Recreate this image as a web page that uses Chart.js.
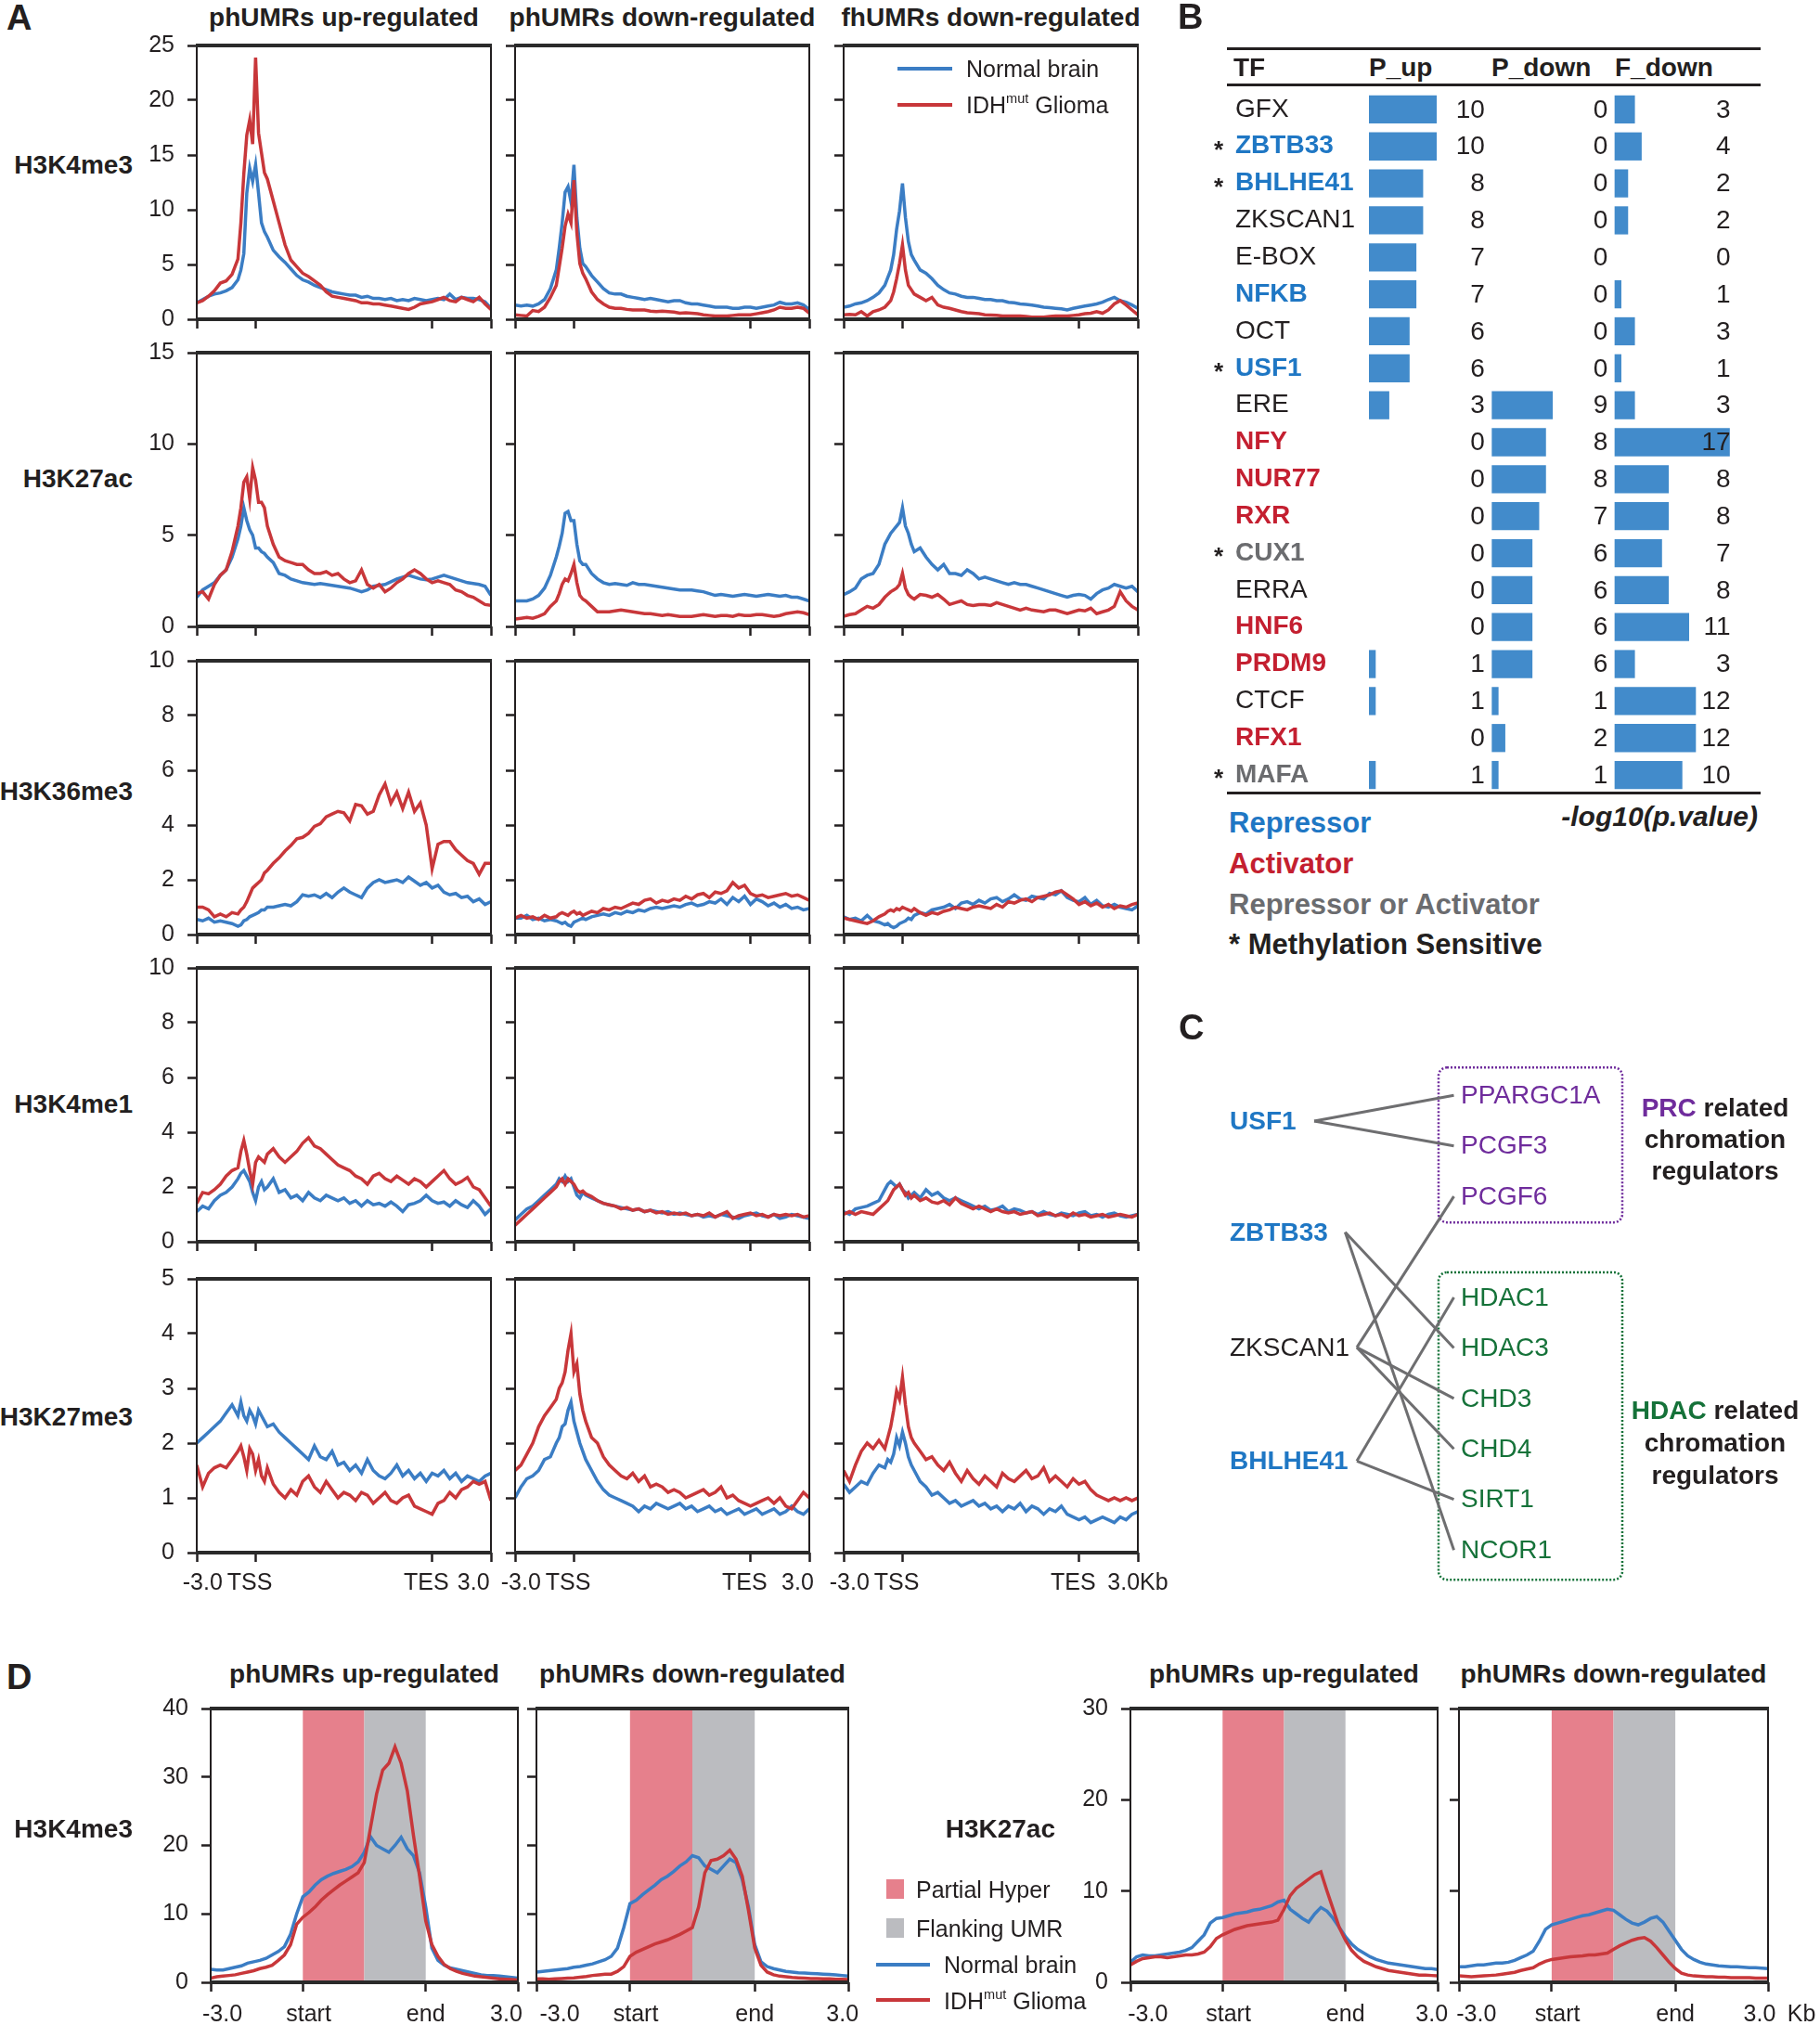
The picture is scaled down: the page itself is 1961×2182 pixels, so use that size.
<!DOCTYPE html>
<html>
<head>
<meta charset="utf-8">
<script src="https://cdn.jsdelivr.net/npm/chart.js@4.4.0/dist/chart.umd.min.js"></script>
<style>
body { margin: 0; background: #fff; }
#fig { position: relative; width: 1961px; height: 2182px; overflow: hidden; background: #fff;
       font-family: "Liberation Sans", Arial, sans-serif; color: #231f20; }
.t { position: absolute; white-space: nowrap; line-height: 1; }
.t sup { font-size: 58%; vertical-align: 0.75em; line-height: 0; }
canvas { position: absolute; }
.rule { position: absolute; background: #231f20; }
</style>
</head>
<body>
<div id="fig"></div>
<script>
// ---------- panel A: profile bins (-3kb .. TSS .. TES .. +3kb scaled to 0..100) ----------
const binsA = [0,2,4,6,8,10,12,14, 15,16,17,18,19,20,21,22,23,24,
  26,28,30,32,34,36,38,40,42,44, 46,48,50,52,54,56,58,60,62,64,
  66,68,70,72,74,76,78,80,82,84, 86,88,90,92,94,96,98,100];

// H3K4me3
const k4me3_pUp_normal = [1.5,1.8,2.1,2.3,2.4,2.6,2.9,3.6,
  4.5,6.0,11.5,13.8,12.6,14.1,11.5,8.8,8.0,7.5,
  6.3,5.7,5.2,4.6,4.0,3.6,3.4,3.1,2.9,2.7,
  2.5,2.4,2.3,2.2,2.2,2.0,2.1,1.9,1.9,1.8,
  1.9,1.7,1.8,1.7,1.9,1.8,1.7,1.8,1.9,1.8,
  2.3,1.8,2.0,1.9,1.9,1.8,1.6,1.0];
const k4me3_pUp_glioma = [1.5,1.7,2.1,2.6,3.3,3.5,4.1,5.5,
  8.8,13.3,16.8,18.2,16.0,23.9,17.0,15.2,13.4,12.8,
  10.8,8.8,6.8,5.4,4.8,4.2,3.9,3.5,3.1,2.5,
  2.1,2.0,1.9,1.8,1.7,1.5,1.5,1.4,1.4,1.3,
  1.2,1.1,1.0,0.9,1.1,1.4,1.5,1.6,1.8,2.0,
  1.7,1.6,2.0,1.8,1.6,2.0,1.4,0.9];
const k4me3_pDown_normal = [1.3,1.2,1.3,1.2,1.4,1.8,2.8,4.5,
  6.5,8.8,11.6,12.1,10.7,14.1,9.3,6.5,5.1,4.8,
  4.0,3.4,2.8,2.4,2.3,2.3,2.1,2.0,1.9,1.8,
  1.9,1.8,1.7,1.6,1.7,1.7,1.5,1.4,1.4,1.3,
  1.2,1.1,1.1,1.1,1.0,1.0,1.1,1.1,1.0,1.1,
  1.2,1.3,1.55,1.4,1.4,1.5,1.3,0.9];
const k4me3_pDown_glioma = [0.4,0.35,0.3,0.8,0.7,1.1,2.0,3.1,
  4.8,6.5,8.5,9.6,8.8,12.7,7.9,5.1,4.2,3.7,
  2.5,1.8,1.4,1.1,1.0,1.0,0.9,0.85,0.85,0.85,
  0.75,0.7,0.75,0.7,0.65,0.55,0.6,0.55,0.5,0.4,
  0.35,0.3,0.3,0.3,0.35,0.4,0.4,0.4,0.5,0.6,
  0.7,0.85,1.1,1.0,1.0,1.1,1.0,0.55];
const k4me3_fDown_normal = [1.1,1.2,1.4,1.5,1.7,2.0,2.4,3.1,
  3.8,4.5,5.9,8.2,9.9,12.4,9.3,7.1,5.9,5.4,
  4.5,4.2,3.7,3.1,2.7,2.4,2.3,2.1,2.0,2.0,
  1.9,1.8,1.8,1.7,1.7,1.55,1.5,1.4,1.35,1.3,
  1.2,1.1,1.05,1.0,0.95,0.85,1.0,1.1,1.2,1.3,
  1.4,1.55,1.8,2.0,1.7,1.55,1.3,1.0];
const k4me3_fDown_glioma = [0.4,0.45,0.4,0.7,0.3,0.7,0.85,1.1,
  1.4,1.7,2.5,3.7,5.1,6.8,4.5,3.1,2.7,2.3,
  2.0,1.7,2.0,1.3,1.1,1.0,0.85,0.7,0.6,0.55,
  0.5,0.4,0.38,0.35,0.3,0.3,0.3,0.3,0.25,0.2,
  0.2,0.2,0.25,0.3,0.3,0.3,0.35,0.4,0.5,0.55,
  0.7,0.55,0.85,1.4,1.7,1.3,0.85,0.4];

// H3K27ac
const k27ac_pUp_normal = [1.6,2.0,2.2,2.4,2.8,3.1,3.8,4.8,
  5.5,6.5,5.8,5.3,5.0,4.3,4.3,4.1,4.0,3.8,
  3.5,2.9,2.8,2.6,2.5,2.4,2.35,2.3,2.35,2.3,
  2.25,2.2,2.15,2.1,2.0,1.9,2.0,2.2,2.25,2.3,
  2.45,2.6,2.7,2.8,2.7,2.6,2.55,2.6,2.7,2.8,
  2.7,2.6,2.5,2.4,2.35,2.3,2.2,1.7];
const k27ac_pUp_glioma = [1.8,1.9,1.5,2.3,2.8,3.1,4.1,5.5,
  6.5,7.9,8.2,7.0,8.7,8.0,6.8,6.8,6.5,5.5,
  4.5,3.8,3.6,3.5,3.4,3.4,3.1,2.9,2.9,3.0,
  2.8,2.9,2.6,2.4,2.5,3.1,2.3,2.1,2.3,1.9,
  2.1,2.4,2.6,2.9,3.1,2.9,2.6,2.4,2.5,2.4,
  2.3,2.0,1.9,1.7,1.6,1.4,1.2,1.15];
const k27ac_pDown_normal = [1.4,1.4,1.4,1.5,1.7,2.1,2.8,3.8,
  4.4,5.1,6.2,6.3,5.8,5.8,4.5,3.6,3.4,3.4,
  2.9,2.6,2.4,2.3,2.35,2.3,2.25,2.4,2.3,2.3,
  2.25,2.2,2.15,2.1,2.05,2.0,2.0,2.0,1.95,1.9,
  1.8,1.7,1.75,1.7,1.65,1.7,1.75,1.7,1.65,1.7,
  1.75,1.7,1.65,1.7,1.6,1.6,1.5,1.4];
const k27ac_pDown_glioma = [0.4,0.45,0.5,0.45,0.55,0.7,1.1,1.4,
  1.8,2.3,2.6,2.5,2.9,3.4,2.4,1.7,1.5,1.4,
  1.1,0.8,0.8,0.8,0.85,0.9,0.85,0.8,0.75,0.7,
  0.7,0.65,0.6,0.65,0.6,0.55,0.55,0.55,0.6,0.65,
  0.6,0.55,0.6,0.6,0.55,0.65,0.6,0.6,0.65,0.65,
  0.6,0.55,0.6,0.7,0.75,0.8,0.75,0.65];
const k27ac_fDown_normal = [1.75,1.9,2.1,2.6,2.8,2.9,3.4,4.5,
  4.8,5.1,5.3,5.5,5.7,6.5,5.5,5.1,4.5,4.1,
  4.3,3.8,3.4,3.1,3.4,2.9,2.9,2.8,3.1,2.9,
  2.6,2.7,2.6,2.5,2.4,2.3,2.4,2.3,2.3,2.2,
  2.1,2.0,1.9,1.8,1.7,1.6,1.7,1.75,1.7,1.5,
  1.8,2.0,2.1,2.3,2.2,2.1,2.2,1.9];
const k27ac_fDown_glioma = [0.55,0.65,0.7,0.9,1.1,1.0,1.2,1.6,
  1.75,1.9,2.0,2.1,2.3,2.9,2.1,1.75,1.6,1.5,
  1.75,1.7,1.6,1.75,1.5,1.2,1.3,1.4,1.2,1.15,
  1.2,1.2,1.15,1.3,1.2,1.1,1.0,0.9,1.0,0.9,
  0.85,0.8,0.9,0.9,0.8,0.7,0.8,0.9,0.85,1.0,
  0.7,0.8,0.9,1.1,1.9,1.4,1.1,0.9];

// H3K36me3
const k36me3_pUp_normal = [0.55,0.5,0.6,0.45,0.5,0.45,0.4,0.3,
  0.35,0.5,0.55,0.65,0.7,0.75,0.8,0.9,0.9,1.0,
  1.0,1.05,1.1,1.05,1.2,1.45,1.4,1.45,1.35,1.5,
  1.35,1.55,1.7,1.55,1.45,1.35,1.7,1.9,2.0,1.9,
  1.95,2.0,1.9,2.1,1.95,1.8,1.9,1.7,1.8,1.55,
  1.45,1.5,1.35,1.4,1.2,1.3,1.1,1.2];
const k36me3_pUp_glioma = [1.0,1.0,0.9,0.65,0.75,0.65,0.8,0.75,
  0.9,1.0,1.2,1.45,1.7,1.8,1.9,2.0,2.25,2.35,
  2.6,2.8,3.05,3.25,3.5,3.55,3.7,3.95,4.05,4.3,
  4.4,4.5,4.45,4.15,4.75,4.7,4.4,4.5,5.1,5.5,
  4.8,5.2,4.6,5.2,4.5,4.8,4.0,2.4,3.3,3.4,
  3.4,3.1,2.9,2.7,2.6,2.2,2.6,2.6];
const k36me3_pDown_normal = [0.6,0.6,0.7,0.55,0.6,0.5,0.55,0.5,
  0.45,0.4,0.45,0.35,0.3,0.45,0.5,0.55,0.6,0.55,
  0.65,0.7,0.75,0.7,0.8,0.75,0.85,0.8,0.9,0.85,
  0.95,1.0,0.95,1.0,1.05,1.0,1.1,1.15,1.05,1.1,
  1.2,1.15,1.3,1.1,1.35,1.2,1.4,1.1,1.3,1.2,
  1.05,1.15,1.0,1.1,0.95,1.0,0.9,0.95];
const k36me3_pDown_glioma = [0.6,0.7,0.6,0.65,0.55,0.7,0.6,0.65,
  0.75,0.8,0.75,0.7,0.8,0.85,0.75,0.8,0.7,0.75,
  0.85,0.8,0.95,0.9,1.0,0.95,1.05,1.15,1.1,1.25,
  1.3,1.15,1.25,1.2,1.3,1.25,1.4,1.3,1.45,1.5,
  1.35,1.55,1.5,1.6,1.9,1.7,1.8,1.5,1.4,1.45,
  1.35,1.4,1.45,1.5,1.4,1.45,1.35,1.25];
const k36me3_fDown_normal = [0.65,0.55,0.6,0.5,0.7,0.5,0.45,0.35,
  0.4,0.3,0.25,0.3,0.4,0.45,0.5,0.6,0.55,0.7,
  0.8,0.75,0.9,0.95,1.0,1.1,0.95,1.15,1.2,1.1,
  1.25,1.15,1.3,1.35,1.2,1.3,1.45,1.3,1.25,1.4,
  1.35,1.3,1.5,1.45,1.6,1.35,1.25,1.2,1.35,1.1,
  1.25,1.05,1.0,1.1,1.0,0.95,0.9,1.05];
const k36me3_fDown_glioma = [0.6,0.55,0.5,0.45,0.4,0.5,0.65,0.75,
  0.85,0.9,0.85,0.95,0.9,1.0,0.95,0.9,0.85,0.95,
  0.8,0.7,0.8,0.75,0.85,0.9,1.0,0.95,0.9,1.0,
  1.05,1.0,0.95,1.1,1.0,1.2,1.15,1.25,1.3,1.2,
  1.35,1.4,1.45,1.55,1.6,1.45,1.3,1.1,1.2,1.05,
  1.15,1.0,1.1,0.95,1.05,1.0,1.1,1.15];

// H3K4me1
const k4me1_pUp_normal = [1.1,1.3,1.2,1.5,1.7,1.8,2.0,2.3,
  2.5,2.6,2.4,2.2,1.8,1.5,2.0,2.2,1.9,2.0,
  2.3,1.8,1.9,1.6,1.7,1.5,1.8,1.6,1.5,1.7,
  1.6,1.5,1.6,1.4,1.5,1.3,1.5,1.35,1.4,1.3,
  1.45,1.3,1.1,1.35,1.4,1.5,1.7,1.5,1.4,1.45,
  1.3,1.5,1.35,1.25,1.5,1.3,1.0,1.2];
const k4me1_pUp_glioma = [1.4,1.8,1.75,1.9,2.1,2.4,2.6,2.7,
  3.3,3.7,3.2,2.6,2.1,2.9,3.1,3.0,2.9,3.2,
  3.4,3.1,2.9,3.1,3.3,3.6,3.8,3.5,3.4,3.2,
  3.0,2.8,2.7,2.6,2.4,2.3,2.1,2.4,2.5,2.3,
  2.2,2.4,2.25,2.1,2.3,2.2,2.0,2.2,2.4,2.6,
  2.3,2.1,2.2,2.35,2.0,1.9,1.6,1.3];
const k4me1_pDown_normal = [0.8,1.0,1.2,1.3,1.5,1.7,1.9,2.1,
  2.3,2.2,2.4,2.2,2.3,2.0,1.7,1.6,1.8,1.7,
  1.6,1.5,1.4,1.35,1.3,1.25,1.2,1.15,1.2,1.1,
  1.15,1.1,1.05,1.1,1.0,1.05,1.0,0.95,1.0,0.9,
  0.95,0.9,1.0,0.95,0.9,0.85,0.95,1.0,1.05,0.95,
  0.9,1.0,0.85,0.9,1.0,0.95,0.9,0.85];
const k4me1_pDown_glioma = [0.6,0.8,1.0,1.2,1.4,1.6,1.8,2.0,
  2.2,2.3,2.1,2.3,2.2,2.1,1.9,1.8,1.85,1.75,
  1.65,1.5,1.4,1.35,1.3,1.2,1.25,1.15,1.2,1.1,
  1.15,1.05,1.1,1.0,1.05,1.0,1.05,0.95,1.0,0.95,
  1.05,0.9,1.0,1.1,0.85,0.95,1.0,1.05,0.95,1.0,
  0.9,1.0,0.95,1.0,0.95,1.0,0.9,0.95];
const k4me1_fDown_normal = [1.1,1.0,1.2,1.25,1.3,1.4,1.5,1.9,
  2.1,2.2,2.1,2.0,2.1,1.9,1.8,1.6,1.7,1.8,
  1.6,1.9,1.7,1.8,1.6,1.5,1.6,1.5,1.4,1.3,
  1.2,1.3,1.15,1.2,1.3,1.1,1.2,1.15,1.05,1.1,
  1.0,1.1,1.0,0.95,1.05,1.0,0.95,1.05,1.1,0.95,
  1.0,0.9,1.0,1.05,0.95,0.9,0.95,1.0];
const k4me1_fDown_glioma = [1.0,1.1,1.0,1.1,1.05,1.0,1.2,1.4,
  1.5,1.7,1.9,2.0,2.1,1.9,1.7,1.8,1.6,1.7,
  1.5,1.6,1.45,1.4,1.5,1.35,1.6,1.4,1.3,1.2,
  1.3,1.2,1.1,1.2,1.1,1.05,1.1,1.0,1.05,1.1,
  0.95,1.0,1.05,0.95,1.0,0.9,1.05,0.95,1.0,0.9,
  0.95,1.0,0.9,0.95,1.0,0.95,0.9,1.0];

// H3K27me3
const k27me3_pUp_normal = [2.0,2.1,2.2,2.3,2.4,2.55,2.7,2.5,
  2.75,2.5,2.4,2.6,2.5,2.35,2.6,2.5,2.4,2.3,
  2.35,2.2,2.1,2.0,1.9,1.8,1.7,1.95,1.75,1.7,
  1.85,1.6,1.65,1.5,1.6,1.45,1.7,1.5,1.4,1.35,
  1.45,1.6,1.4,1.5,1.35,1.45,1.3,1.45,1.4,1.5,
  1.35,1.45,1.3,1.4,1.35,1.3,1.4,1.45];
const k27me3_pUp_glioma = [1.6,1.2,1.45,1.55,1.6,1.55,1.7,1.85,
  1.95,1.75,1.5,1.9,1.8,1.5,1.7,1.4,1.3,1.55,
  1.25,1.1,1.0,1.15,1.05,1.3,1.4,1.2,1.1,1.3,
  1.15,1.0,1.1,1.05,0.95,1.1,1.05,0.9,1.0,1.1,
  0.95,0.9,1.0,1.05,0.85,0.8,0.75,0.7,0.9,0.95,
  1.1,1.0,1.15,1.2,1.3,1.25,1.3,0.95];
const k27me3_pDown_normal = [1.0,1.2,1.35,1.4,1.5,1.7,1.75,2.0,
  2.1,2.3,2.35,2.6,2.75,2.4,2.2,2.0,1.85,1.7,
  1.5,1.3,1.15,1.05,1.0,0.95,0.9,0.85,0.75,0.85,
  0.8,0.9,0.85,0.8,0.85,0.9,0.8,0.85,0.75,0.8,
  0.85,0.75,0.8,0.7,0.75,0.8,0.7,0.75,0.8,0.7,
  0.75,0.8,0.7,0.75,0.85,0.75,0.7,0.8];
const k27me3_pDown_glioma = [1.5,1.6,1.8,2.0,2.3,2.5,2.65,2.8,
  3.0,3.1,3.3,3.7,4.0,3.3,3.45,2.9,2.6,2.4,
  2.1,2.0,1.75,1.6,1.5,1.4,1.35,1.45,1.3,1.4,
  1.2,1.25,1.2,1.1,1.15,1.1,1.0,1.05,1.1,1.15,
  1.05,1.1,1.2,1.0,1.05,0.95,0.9,0.85,0.9,0.95,
  1.0,0.9,1.0,0.85,0.8,0.95,1.1,1.0];
const k27me3_fDown_normal = [1.25,1.1,1.2,1.3,1.25,1.45,1.6,1.55,
  1.7,1.65,1.8,2.1,1.95,2.2,2.0,1.75,1.6,1.5,
  1.3,1.2,1.05,1.1,1.0,0.9,0.95,0.85,0.9,0.95,
  0.85,0.9,0.8,0.85,0.75,0.85,0.8,0.9,0.75,0.85,
  0.8,0.7,0.8,0.75,0.85,0.7,0.65,0.6,0.65,0.55,
  0.6,0.65,0.6,0.55,0.65,0.6,0.7,0.75];
const k27me3_fDown_glioma = [1.5,1.3,1.6,1.85,2.0,1.9,2.05,1.9,
  2.1,2.3,2.6,2.95,2.8,3.2,2.7,2.3,2.1,2.0,
  1.85,1.7,1.75,1.6,1.5,1.65,1.45,1.3,1.5,1.35,
  1.25,1.4,1.3,1.2,1.45,1.35,1.3,1.4,1.5,1.35,
  1.4,1.55,1.3,1.4,1.3,1.2,1.35,1.25,1.3,1.15,
  1.05,1.0,0.95,1.0,0.95,1.0,0.95,1.0];

const rowNamesA = ['H3K4me3', 'H3K27ac', 'H3K36me3', 'H3K4me1', 'H3K27me3'];
const rowMaxA = [25, 15, 10, 10, 5];
const rowStepA = [5, 5, 2, 2, 1];
const colTitlesA = ['phUMRs up-regulated', 'phUMRs down-regulated', 'fhUMRs down-regulated'];
const seriesA = [
  [[k4me3_pUp_normal, k4me3_pUp_glioma], [k4me3_pDown_normal, k4me3_pDown_glioma], [k4me3_fDown_normal, k4me3_fDown_glioma]],
  [[k27ac_pUp_normal, k27ac_pUp_glioma], [k27ac_pDown_normal, k27ac_pDown_glioma], [k27ac_fDown_normal, k27ac_fDown_glioma]],
  [[k36me3_pUp_normal, k36me3_pUp_glioma], [k36me3_pDown_normal, k36me3_pDown_glioma], [k36me3_fDown_normal, k36me3_fDown_glioma]],
  [[k4me1_pUp_normal, k4me1_pUp_glioma], [k4me1_pDown_normal, k4me1_pDown_glioma], [k4me1_fDown_normal, k4me1_fDown_glioma]],
  [[k27me3_pUp_normal, k27me3_pUp_glioma], [k27me3_pDown_normal, k27me3_pDown_glioma], [k27me3_fDown_normal, k27me3_fDown_glioma]]
];
const xTicksA = [0, 20, 80, 100];
const xLabelsA = ['-3.0', 'TSS', 'TES', '3.0'];

// ---------- panel B ----------
const tfNames = ['GFX','ZBTB33','BHLHE41','ZKSCAN1','E-BOX','NFKB','OCT','USF1','ERE','NFY',
  'NUR77','RXR','CUX1','ERRA','HNF6','PRDM9','CTCF','RFX1','MAFA'];
const tfType = ['none','rep','rep','none','none','rep','none','rep','none','act',
  'act','act','either','none','act','act','none','act','either'];
const tfMethyl = [0,1,1,0,0,0,0,1,0,0,0,0,1,0,0,0,0,0,1];
const pUp   = [10,10,8,8,7,7,6,6,3,0,0,0,0,0,0,1,1,0,1];
const pDown = [0,0,0,0,0,0,0,0,9,8,8,7,6,6,6,6,1,2,1];
const fDown = [3,4,2,2,0,1,3,1,3,17,8,8,7,8,11,3,12,12,10];
const tableHeads = ['TF', 'P_up', 'P_down', 'F_down'];

// ---------- panel C ----------
const leftNodes = ['USF1', 'ZBTB33', 'ZKSCAN1', 'BHLHE41'];
const leftType = ['rep', 'rep', 'none', 'rep'];
const leftSlot = [0.51, 2.71, 4.99, 7.24];
const leftOut = [-0.44, -0.12, 0, 0];
const rightNodes = ['PPARGC1A','PCGF3','PCGF6','HDAC1','HDAC3','CHD3','CHD4','SIRT1','NCOR1'];
const rightGroup = ['PRC','PRC','PRC','HDAC','HDAC','HDAC','HDAC','HDAC','HDAC'];
const rightSlot = [0, 1, 2, 4, 5, 6, 7, 8, 9];
const edges = [['USF1','PPARGC1A'], ['USF1','PCGF3'], ['ZBTB33','HDAC3'], ['ZBTB33','NCOR1'],
  ['ZKSCAN1','PCGF6'], ['ZKSCAN1','CHD3'], ['ZKSCAN1','CHD4'], ['BHLHE41','HDAC1'], ['BHLHE41','SIRT1']];

// ---------- panel D ----------
const binsD = [0,2,4,6,8,10,12,14,16,18,20,22,24,26,28,30,32,34,36,38,40,42,44,46,48,50,
  52,54,56,58,60,62,64,66,68,70,72,74,76,78,80,82,84,86,88,90,92,94,96,98,100];
const regionEdges = [30, 50, 70];
const xTicksD = [0, 30, 70, 100];
const xLabelsD = ['-3.0', 'start', 'end', '3.0'];
const dK4me3_up_normal = [1.9,1.8,1.8,2.0,2.2,2.4,2.8,3.0,3.2,3.5,
  4.0,4.5,5.2,7.0,10.0,12.5,13.2,14.2,15.0,15.5,
  15.9,16.2,16.5,16.9,17.6,19.0,21.3,20.0,19.5,19.0,
  20.0,21.2,19.5,18.5,16.0,11.0,5.0,3.2,2.5,2.1,
  1.9,1.7,1.5,1.3,1.1,1.0,1.0,0.9,0.8,0.7, 0.6];
const dK4me3_up_glioma = [0.6,0.8,0.9,1.0,1.1,1.3,1.5,1.7,2.0,2.2,
  2.5,3.2,4.0,5.5,8.5,9.5,10.2,11.0,12.0,12.8,
  13.5,14.2,14.8,15.4,16.0,17.5,22.5,27.5,31.0,32.0,
  34.4,32.0,28.0,21.5,15.5,9.0,5.5,3.8,2.6,2.0,
  1.6,1.3,1.1,0.9,0.8,0.7,0.6,0.5,0.45,0.4, 0.35];
const dK4me3_down_normal = [1.5,1.6,1.7,1.8,1.9,2.0,2.2,2.3,2.5,2.7,
  3.0,3.3,3.8,5.0,8.0,11.5,12.0,12.8,13.5,14.2,
  15.0,15.5,16.2,17.0,17.6,18.5,18.2,17.0,16.5,16.0,
  17.0,18.0,17.5,15.0,11.0,5.5,3.0,2.3,2.0,1.8,
  1.6,1.5,1.4,1.35,1.3,1.25,1.2,1.15,1.1,1.0, 0.9];
const dK4me3_down_glioma = [0.5,0.5,0.45,0.5,0.55,0.6,0.65,0.75,0.85,1.0,
  1.1,1.2,1.2,1.6,2.3,3.8,4.4,4.8,5.2,5.6,
  5.9,6.2,6.6,7.0,7.5,8.0,11.0,16.0,17.8,18.0,
  18.5,19.3,18.0,15.5,10.5,5.0,2.5,1.5,1.1,0.9,
  0.8,0.7,0.65,0.6,0.55,0.55,0.5,0.5,0.45,0.45, 0.4];
const dK27ac_up_normal = [2.2,2.8,3.0,2.9,2.9,3.0,3.1,3.2,3.3,3.5,
  3.8,4.5,5.2,6.5,7.0,7.1,7.3,7.5,7.6,7.7,
  7.9,8.0,8.2,8.4,8.8,9.0,8.0,7.5,7.0,6.6,
  7.5,8.2,7.8,7.0,6.0,5.0,4.2,3.6,3.2,2.8,
  2.5,2.3,2.1,2.0,1.9,1.8,1.7,1.6,1.5,1.5, 1.4];
const dK27ac_up_glioma = [1.9,2.3,2.6,2.7,2.8,2.8,2.7,2.8,2.9,3.0,
  3.0,3.1,3.3,3.9,4.8,5.2,5.5,5.8,6.0,6.2,
  6.3,6.4,6.5,6.6,6.8,8.0,9.5,10.3,10.8,11.3,
  11.8,12.1,10.0,8.0,6.0,4.6,3.5,2.8,2.3,2.0,
  1.7,1.5,1.3,1.2,1.1,1.0,0.9,0.8,0.8,0.75, 0.7];
const dK27ac_down_normal = [1.7,1.7,1.8,1.9,1.9,2.0,2.1,2.1,2.2,2.4,
  2.7,3.0,3.4,4.5,5.8,6.3,6.5,6.7,6.9,7.1,
  7.3,7.4,7.6,7.8,8.0,7.9,7.4,6.9,6.5,6.3,
  6.6,7.0,7.2,6.6,5.6,4.6,3.6,2.9,2.5,2.2,
  2.0,1.9,1.8,1.75,1.7,1.7,1.65,1.6,1.6,1.55, 1.5];
const dK27ac_down_glioma = [0.7,0.65,0.6,0.65,0.7,0.75,0.8,0.9,1.0,1.1,
  1.3,1.45,1.6,2.0,2.3,2.5,2.6,2.7,2.8,2.85,
  2.9,3.0,3.0,3.1,3.2,3.6,4.0,4.3,4.6,4.8,
  4.9,4.5,3.8,3.0,2.2,1.5,1.0,0.8,0.7,0.65,
  0.6,0.6,0.55,0.55,0.5,0.5,0.5,0.5,0.45,0.45, 0.45];
const titlesD = ['phUMRs up-regulated', 'phUMRs down-regulated', 'phUMRs up-regulated', 'phUMRs down-regulated'];
const seriesD = [[dK4me3_up_normal, dK4me3_up_glioma], [dK4me3_down_normal, dK4me3_down_glioma],
  [dK27ac_up_normal, dK27ac_up_glioma], [dK27ac_down_normal, dK27ac_down_glioma]];
const yMaxD = [40, 40, 30, 30];

// ---------- styling ----------
const ink = '#231f20';
const blueLine = '#3b7dc4';
const redLine = '#c8373a';
const barBlue = '#428bcb';
const typeColor = { rep: '#1f77c4', act: '#c41f30', either: '#6b6c6f', none: ink };
const prcColor = '#6f2c9c';
const hdacColor = '#157239';
const pinkBand = '#e6808c';
const grayBand = '#bbbcc0';
const en = '\u2002';

Chart.defaults.animation = false;
Chart.defaults.responsive = false;
Chart.defaults.events = [];
Chart.defaults.font.family = '"Liberation Sans", Arial, sans-serif';
Chart.defaults.color = ink;
Chart.defaults.plugins.legend.display = false;
Chart.defaults.plugins.tooltip.enabled = false;

const fig = document.getElementById('fig');

function addText(html, x, y, o = {}) {
  const d = document.createElement('div');
  d.className = 't';
  d.innerHTML = html;
  d.style.left = x + 'px';
  d.style.top = y + 'px';
  d.style.fontSize = (o.size || 28) + 'px';
  d.style.fontWeight = o.bold ? 'bold' : 'normal';
  if (o.italic) d.style.fontStyle = 'italic';
  d.style.color = o.color || ink;
  const ax = o.align === 'center' ? '-50%' : o.align === 'right' ? '-100%' : '0';
  d.style.transform = 'translate(' + ax + ',-50%)';
  fig.appendChild(d);
  return d;
}

function addRule(x, y, w, h, color) {
  const d = document.createElement('div');
  d.className = 'rule';
  d.style.left = x + 'px'; d.style.top = y + 'px';
  d.style.width = w + 'px'; d.style.height = h + 'px';
  if (color) d.style.background = color;
  fig.appendChild(d);
}

function addCanvas(x, y, w, h) {
  const c = document.createElement('canvas');
  c.width = w; c.height = h;
  c.style.left = x + 'px'; c.style.top = y + 'px';
  c.style.width = w + 'px'; c.style.height = h + 'px';
  fig.appendChild(c);
  return c;
}

const framePlugin = {
  id: 'frame',
  afterDatasetsDraw(chart) {
    const { ctx, chartArea: a } = chart;
    ctx.save();
    ctx.strokeStyle = ink;
    ctx.lineWidth = 2;
    ctx.beginPath();
    ctx.moveTo(a.left, a.top); ctx.lineTo(a.left, a.bottom);
    ctx.moveTo(a.right, a.top); ctx.lineTo(a.right, a.bottom);
    ctx.stroke();
    ctx.strokeStyle = '#2a2a2a';
    ctx.lineWidth = 4;
    ctx.beginPath();
    ctx.moveTo(a.left - 1, a.top); ctx.lineTo(a.right + 1, a.top);
    ctx.moveTo(a.left - 1, a.bottom); ctx.lineTo(a.right + 1, a.bottom);
    ctx.stroke();
    ctx.restore();
  }
};

const bandPlugin = {
  id: 'bands',
  beforeDatasetsDraw(chart, args, opts) {
    if (!opts.edges) return;
    const { ctx, chartArea: a, scales: { x } } = chart;
    const e = opts.edges.map(v => x.getPixelForValue(v));
    ctx.save();
    ctx.fillStyle = pinkBand;
    ctx.fillRect(e[0], a.top, e[1] - e[0], a.bottom - a.top);
    ctx.fillStyle = grayBand;
    ctx.fillRect(e[1], a.top, e[2] - e[1], a.bottom - a.top);
    ctx.restore();
  }
};

function profileChart(p) {
  const m = p.m;
  const c = addCanvas(p.box.x - m.l, p.box.y - m.t, p.box.w + m.l + m.r, p.box.h + m.t + m.b);
  const mk = (ys, color, order) => ({
    data: p.bins.map((x, j) => ({ x: x, y: ys[j] })),
    borderColor: color, borderWidth: 3.5, pointRadius: 0, fill: false, order: order
  });
  const tickGrid = { drawOnChartArea: false, drawTicks: true, tickLength: 10, tickWidth: 2.5, tickColor: ink };
  return new Chart(c, {
    type: 'line',
    data: { datasets: [mk(p.series[0], blueLine, 1), mk(p.series[1], redLine, 0)] },
    options: {
      parsing: false,
      layout: { padding: { left: 0, top: m.t, right: m.r, bottom: 0 } },
      plugins: { bands: { edges: p.bands || null } },
      scales: {
        x: {
          type: 'linear', min: 0, max: 100,
          afterBuildTicks: s => { s.ticks = p.xTicks.map(v => ({ value: v })); },
          afterFit: s => { s.height = m.b; s.paddingLeft = 0; s.paddingRight = 0; },
          grid: tickGrid, border: { display: false },
          ticks: { autoSkip: false, maxRotation: 0, minRotation: 0, font: { size: 25 }, padding: p.xPad,
                   callback: (v, i) => p.xLabels ? p.xLabels[i] : '' }
        },
        y: {
          type: 'linear', min: 0, max: p.yMax,
          afterFit: s => { s.width = m.l; s.paddingTop = 0; s.paddingBottom = 0; },
          grid: tickGrid, border: { display: false },
          ticks: { stepSize: p.yStep, font: { size: 25 }, padding: p.yPad,
                   callback: v => p.yLabels ? String(v) : '' }
        }
      }
    },
    plugins: [bandPlugin, framePlugin]
  });
}

// ================= Panel A =================
const colLeftA = [212, 555, 909];
const colWidthA = 317;
const rowTopA = [48.5, 379.5, 711.5, 1042.5, 1378];
const rowHeightA = 295;
const rowLabelY = [178, 516, 853, 1190, 1527];
const firstPadA = [1, 1, 1];
const lastPadA = [3, 2, 0];

addText('A', 7, 19, { size: 38, bold: true });
colTitlesA.forEach((t, ci) => addText(t, colLeftA[ci] + colWidthA / 2, 19, { bold: true, align: 'center' }));

rowNamesA.forEach((name, ri) => {
  addText(name, 143, rowLabelY[ri], { bold: true, align: 'right' });
  for (let ci = 0; ci < 3; ci++) {
    let labels = null;
    if (ri === 4) {
      labels = xLabelsA.slice();
      labels[0] = en.repeat(firstPadA[ci]) + labels[0];
      labels[1] = labels[1] + en;
      labels[2] = labels[2] + en;
      labels[3] = ci === 2 ? '3.0Kb' : labels[3] + en.repeat(lastPadA[ci]);
    }
    profileChart({
      box: { x: colLeftA[ci], y: rowTopA[ri], w: colWidthA, h: rowHeightA },
      m: { l: 84, t: 18, r: 45, b: 60 },
      bins: binsA, series: seriesA[ri][ci],
      yMax: rowMaxA[ri], yStep: rowStepA[ri], yLabels: ci === 0, yPad: 14,
      xTicks: xTicksA, xLabels: labels, xPad: 8
    });
  }
});

// legend in panel A
addRule(967, 72, 59, 4, blueLine);
addRule(967, 111, 59, 4, redLine);
addText('Normal brain', 1041, 74, { size: 25 });
addText('IDH<sup>mut</sup> Glioma', 1041, 113, { size: 25 });

// ================= Panel B =================
addText('B', 1269, 18, { size: 38, bold: true });
addRule(1322, 51, 575, 3);
addRule(1322, 90, 575, 2.5);
addRule(1322, 853, 575, 3);
const headX = [1329, 1475, 1607, 1740];
tableHeads.forEach((h, i) => addText(h, headX[i], 73, { bold: true }));

const W = 18.12;
const valueLabels = {
  id: 'valueLabels',
  afterDatasetsDraw(chart) {
    const ctx = chart.ctx;
    ctx.save();
    ctx.font = '28px "Liberation Sans", Arial, sans-serif';
    ctx.fillStyle = ink;
    ctx.textAlign = 'right';
    ctx.textBaseline = 'middle';
    chart.data.datasets.forEach((ds, i) => {
      const sc = chart.scales['x' + i];
      const meta = chart.getDatasetMeta(i);
      ds.data.forEach((v, j) => ctx.fillText(String(v), sc.getPixelForValue(17.1), meta.data[j].y + 1));
    });
    const ys = chart.scales.y;
    ctx.textAlign = 'center';
    ctx.font = 'bold 26px "Liberation Sans", Arial, sans-serif';
    tfMethyl.forEach((f, j) => { if (f) ctx.fillText('*', 13, ys.getPixelForValue(j) + 5); });
    ctx.restore();
  }
};
const bCanvas = addCanvas(1300, 98, 600, 757);
new Chart(bCanvas, {
  type: 'bar',
  data: {
    labels: tfNames,
    datasets: [pUp, pDown, fDown].map((vals, i) => ({
      data: vals, xAxisID: 'x' + i, backgroundColor: barBlue, borderWidth: 0,
      grouped: false, barPercentage: 0.76, categoryPercentage: 1
    }))
  },
  options: {
    indexAxis: 'y',
    layout: { padding: { left: 31, right: 28, top: 0, bottom: 0 } },
    scales: {
      y: {
        afterFit: s => { s.width = 144; s.paddingTop = 0; s.paddingBottom = 0; },
        grid: { display: false }, border: { display: false },
        ticks: {
          crossAlign: 'far', autoSkip: false, padding: 0,
          color: c => typeColor[tfType[c.index]],
          font: c => ({ size: 28, weight: tfType[c.index] === 'none' ? 'normal' : 'bold' })
        }
      },
      x0: { type: 'linear', display: false, min: 0, max: 3 * W },
      x1: { type: 'linear', display: false, min: -W, max: 2 * W },
      x2: { type: 'linear', display: false, min: -2 * W, max: W }
    }
  },
  plugins: [valueLabels]
});

addText('-log10(p.value)', 1894, 880, { size: 30, bold: true, italic: true, align: 'right' });
addText('Repressor', 1324, 886, { size: 31, bold: true, color: typeColor.rep });
addText('Activator', 1324, 929.5, { size: 31, bold: true, color: typeColor.act });
addText('Repressor or Activator', 1324, 974, { size: 31, bold: true, color: typeColor.either });
addText('* Methylation Sensitive', 1324, 1017, { size: 31, bold: true });

// ================= Panel C =================
addText('C', 1270, 1107, { size: 38, bold: true });
const networkLabels = {
  id: 'networkLabels',
  beforeDatasetsDraw(chart) {
    const { ctx, scales: { x, y } } = chart;
    const bx0 = x.getPixelForValue(1) - 16.5, bx1 = x.getPixelForValue(1) + 181.5;
    const box = (top, bottom, color) => {
      ctx.save();
      ctx.strokeStyle = color; ctx.lineWidth = 2.5; ctx.setLineDash([2, 2]);
      ctx.beginPath();
      ctx.roundRect(bx0, top, bx1 - bx0, bottom - top, 9);
      ctx.stroke();
      ctx.restore();
    };
    box(y.getPixelForValue(0) - 30, y.getPixelForValue(2) + 28, prcColor);
    box(y.getPixelForValue(4) - 27, y.getPixelForValue(9) + 32, hdacColor);
  },
  afterDatasetsDraw(chart) {
    const { ctx, scales: { x, y } } = chart;
    ctx.save();
    ctx.textBaseline = 'middle';
    ctx.textAlign = 'left';
    leftNodes.forEach((n, i) => {
      ctx.font = (leftType[i] === 'none' ? '' : 'bold ') + '28px "Liberation Sans", Arial, sans-serif';
      ctx.fillStyle = typeColor[leftType[i]];
      ctx.fillText(n, 25, y.getPixelForValue(leftSlot[i]) + 1);
    });
    ctx.font = '28px "Liberation Sans", Arial, sans-serif';
    rightNodes.forEach((n, i) => {
      ctx.fillStyle = rightGroup[i] === 'PRC' ? prcColor : hdacColor;
      ctx.fillText(n, x.getPixelForValue(1) + 7.5, y.getPixelForValue(rightSlot[i]) + 1);
    });
    ctx.restore();
  }
};
const cCanvas = addCanvas(1300, 1120, 661, 600);
new Chart(cCanvas, {
  type: 'scatter',
  data: {
    datasets: edges.map(([a, b]) => {
      const li = leftNodes.indexOf(a), ri = rightNodes.indexOf(b);
      return {
        data: [{ x: leftOut[li], y: leftSlot[li] }, { x: 1, y: rightSlot[ri] }],
        showLine: true, borderColor: '#6e6e70', borderWidth: 3, pointRadius: 0
      };
    })
  },
  options: {
    layout: { padding: 0 },
    scales: {
      x: { type: 'linear', display: false, min: -1.55, max: 4.775 },
      y: { type: 'linear', display: false, min: -1.108, max: 9.916, reverse: true }
    }
  },
  plugins: [networkLabels]
});
addText('<span style="color:' + prcColor + '">PRC</span> related', 1848, 1194, { bold: true, align: 'center' });
addText('chromation', 1848, 1228, { bold: true, align: 'center' });
addText('regulators', 1848, 1262, { bold: true, align: 'center' });
addText('<span style="color:' + hdacColor + '">HDAC</span> related', 1848, 1520, { bold: true, align: 'center' });
addText('chromation', 1848, 1555, { bold: true, align: 'center' });
addText('regulators', 1848, 1590, { bold: true, align: 'center' });

// ================= Panel D =================
addText('D', 7, 1807, { size: 38, bold: true });
const leftD = [227, 578, 1218, 1572];
const widthD = [331, 336, 331, 333];
const topD = 1841, heightD = 295;
const firstPadD = [2, 4, 3, 3];
const lastPadD = [2, 1, 1, 0];
seriesD.forEach((s, i) => {
  addText(titlesD[i], leftD[i] + widthD[i] / 2, 1804, { bold: true, align: 'center' });
  const labels = xLabelsD.slice();
  labels[0] = en.repeat(firstPadD[i]) + labels[0];
  labels[1] = en + labels[1];
  labels[3] = i === 3 ? en.repeat(2) + '3.0' + en + 'Kb' : labels[3] + en.repeat(lastPadD[i]);
  profileChart({
    box: { x: leftD[i], y: topD, w: widthD[i], h: heightD },
    m: { l: 84, t: 20, r: i === 3 ? 70 : 45, b: 60 },
    bins: binsD, series: s, bands: regionEdges,
    yMax: yMaxD[i], yStep: 10, yLabels: i === 0 || i === 2, yPad: 14,
    xTicks: xTicksD, xLabels: labels, xPad: 10
  });
});
addText('H3K4me3', 143, 1971, { bold: true, align: 'right' });
addText('H3K27ac', 1137, 1971, { bold: true, align: 'right' });
addRule(955, 2025, 19, 21, pinkBand);
addRule(955, 2067, 19, 21, grayBand);
addRule(944, 2115, 58, 4, blueLine);
addRule(944, 2153, 58, 4, redLine);
addText('Partial Hyper', 987, 2036, { size: 25 });
addText('Flanking UMR', 987, 2078, { size: 25 });
addText('Normal brain', 1017, 2117, { size: 25 });
addText('IDH<sup>mut</sup> Glioma', 1017, 2156, { size: 25 });
</script>
</body>
</html>
